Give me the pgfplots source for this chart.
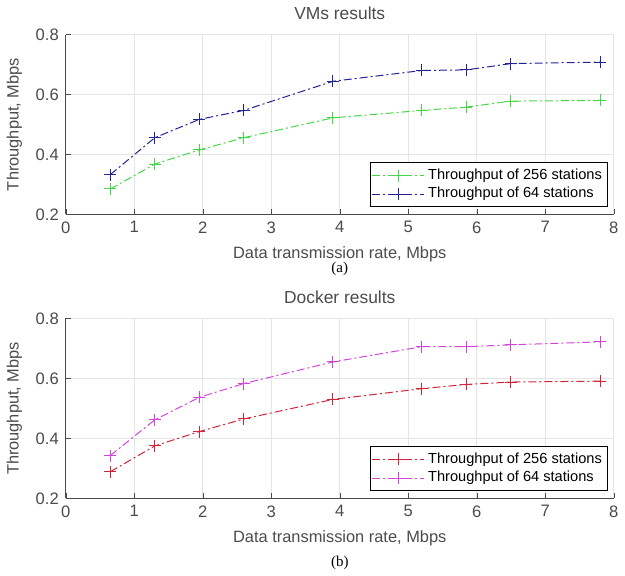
\documentclass[border=0pt]{standalone}
\usepackage{fontspec}
\setmainfont{Liberation Sans}
\newfontfamily\seriffont{Liberation Serif}
\usepackage{pgfplots}
\pgfplotsset{compat=1.18}

\definecolor{cgreen}{RGB}{70,215,70}
\definecolor{cblue}{RGB}{35,35,150}
\definecolor{cred}{RGB}{210,35,55}
\definecolor{cmag}{RGB}{210,70,215}
\definecolor{axgray}{RGB}{75,75,75}

\pgfplotsset{
  res/.style={
    scale only axis, width=274pt, height=90pt,
    xmin=0, xmax=8, ymin=0.2, ymax=0.8,
    xtick={0,...,8}, ytick={0.2,0.4,0.6,0.8},
    yticklabel style={/pgf/number format/.cd,fixed,fixed zerofill,precision=1},
    /pgf/number format/assume math mode=true,
    axis x line*=bottom, axis y line*=left,
    axis line style={axgray,-},
    tick style={axgray},
    tick align=inside, major tick length=2.5pt,
    grid=major, major grid style={gray!20, line width=0.4pt},
    ticklabel style={font=\fontsize{8.3}{9}\selectfont, text=axgray},
    label style={font=\fontsize{8.2}{9}\selectfont, text=axgray},
    title style={font=\fontsize{8.7}{10}\selectfont, text=axgray, yshift=-2pt},
    xlabel={Data transmission rate, Mbps},
    ylabel={Throughput, Mbps},
    legend style={at={(rel axis cs:0.99,0.04)}, anchor=south east,
      font=\fontsize{7.3}{8}\selectfont, draw=black, inner sep=1pt,
      row sep=-1.5pt},
    legend cell align=left,
    legend image code/.code={
      \draw[mark repeat=2, mark phase=2] plot coordinates {(0cm,0cm) (0.45cm,0cm) (0.9cm,0cm)};
    },
    every axis plot/.append style={line width=0.5pt,
      dash pattern=on 4pt off 1.5pt on 1pt off 1.5pt, mark=+, mark size=3pt,
      mark options={solid}},
    clip=false,
  }
}

\begin{document}
\begin{tikzpicture}
\begin{axis}[res, at={(0,142pt)}, title={VMs results}]
\addplot[cgreen] coordinates {
  (0.65,0.285) (1.3,0.368) (1.95,0.415) (2.6,0.456) (3.9,0.522)
  (5.2,0.547) (5.85,0.558) (6.5,0.578) (7.8,0.580)
};
\addplot[cblue] coordinates {
  (0.65,0.333) (1.3,0.456) (1.95,0.517) (2.6,0.547) (3.9,0.644)
  (5.2,0.680) (5.85,0.682) (6.5,0.703) (7.8,0.708)
};
\legend{Throughput of 256 stations, Throughput of 64 stations}
\node[font=\seriffont\fontsize{7.5}{9}\selectfont] at (rel axis cs:0.5,0) [yshift=-27pt] {(a)};
\end{axis}
\begin{axis}[res, at={(0,0)}, title={Docker results}]
\addplot[cred] coordinates {
  (0.65,0.289) (1.3,0.375) (1.95,0.423) (2.6,0.465) (3.9,0.530)
  (5.2,0.566) (5.85,0.580) (6.5,0.588) (7.8,0.591)
};
\addplot[cmag] coordinates {
  (0.65,0.343) (1.3,0.462) (1.95,0.537) (2.6,0.583) (3.9,0.655)
  (5.2,0.706) (5.85,0.706) (6.5,0.712) (7.8,0.722)
};
\legend{Throughput of 256 stations, Throughput of 64 stations}
\node[font=\seriffont\fontsize{7.5}{9}\selectfont] at (rel axis cs:0.5,0) [yshift=-32pt] {(b)};
\end{axis}
\end{tikzpicture}
\end{document}
